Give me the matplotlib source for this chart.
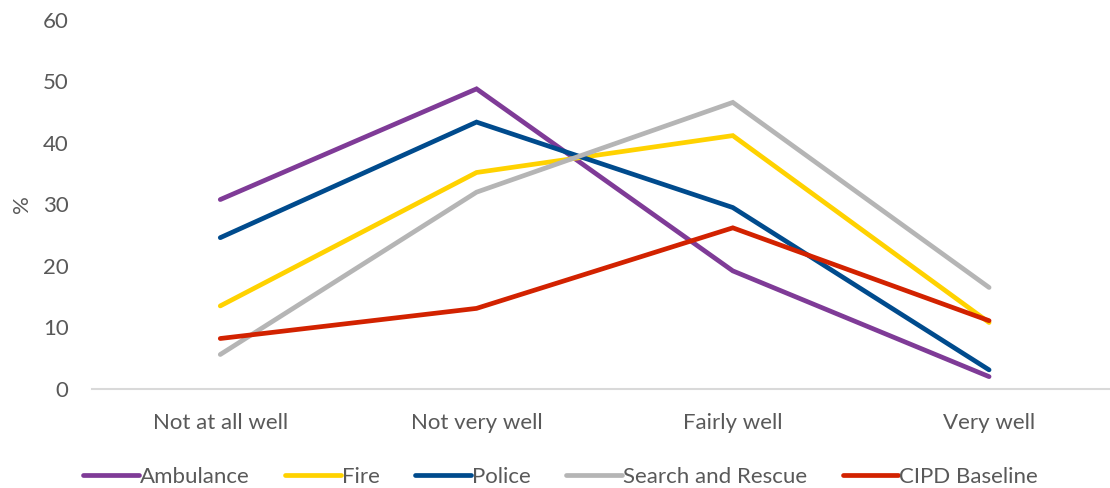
import matplotlib.pyplot as plt

plt.rcParams['font.family'] = ['Lato', 'DejaVu Sans']

categories = ['Not at all well', 'Not very well', 'Fairly well', 'Very well']
ambulance = [30.8, 48.8, 19.2, 2.0]
fire = [13.5, 35.2, 41.2, 10.8]
police = [24.6, 43.4, 29.5, 3.1]
search_rescue = [5.6, 32.0, 46.6, 16.5]
cipd_baseline = [8.2, 13.1, 26.2, 11.1]

series = [
    ('Ambulance', ambulance, '#7F3B97'),
    ('Fire', fire, '#FFD200'),
    ('Police', police, '#004B8D'),
    ('Search and Rescue', search_rescue, '#B5B5B5'),
    ('CIPD Baseline', cipd_baseline, '#D22200'),
]

fig = plt.figure(figsize=(11.1, 4.88), dpi=100)
ax = fig.add_axes([0.083, 0.203, 0.9235, 0.756])

x = range(len(categories))
for name, vals, col in series:
    ax.plot(x, vals, color=col, lw=3.4, label=name,
            solid_capstyle='round', solid_joinstyle='miter')

ax.set_xlim(-0.5, 3.5)
ax.set_ylim(0, 60)
ax.set_yticks(range(0, 61, 10))
ax.set_xticks(list(x))
ax.set_xticklabels(categories)

grey = '#595959'
for s in ['top', 'right', 'left']:
    ax.spines[s].set_visible(False)
ax.spines['bottom'].set_color('#D9D9D9')
ax.spines['bottom'].set_linewidth(1.5)
ax.tick_params(axis='both', length=0, labelsize=16, labelcolor=grey)
ax.tick_params(axis='y', pad=17)
ax.tick_params(axis='x', pad=17)
ax.set_ylabel('%', fontsize=16, color=grey, labelpad=8)

fig.legend(loc='center', bbox_to_anchor=(0.505, 0.022), ncol=5, frameon=False,
           fontsize=16, labelcolor=grey, handlelength=2.5, handletextpad=0.05,
           columnspacing=1.6)

fig.savefig('out.png', dpi=100)
